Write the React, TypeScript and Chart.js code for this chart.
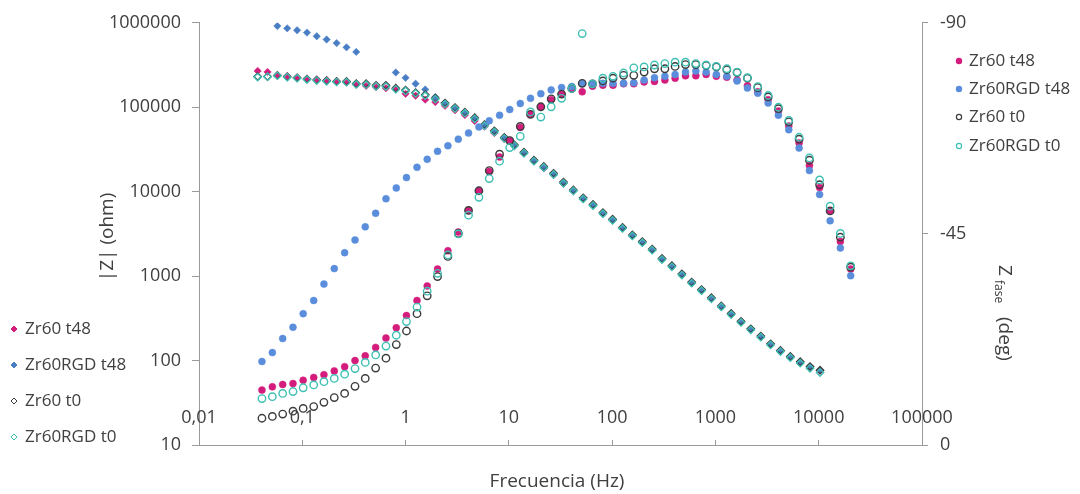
import React, { useEffect, useRef } from 'react';
import { Chart, registerables } from 'chart.js';

Chart.register(...registerables);

// ---------- DATA ----------
const SERIES_NAMES = ['Zr60 t48', 'Zr60RGD t48', 'Zr60 t0', 'Zr60RGD t0'];

// frequencies (Hz) of the |Z| points
const FREQ_Z = [
  0.037, 0.0461, 0.0574, 0.0715, 0.0891, 0.111, 0.138, 0.172, 0.215, 0.268,
  0.333, 0.415, 0.518, 0.645, 0.804, 1.0, 1.25, 1.55, 1.94, 2.41,
  3.01, 3.75, 4.67, 5.81, 7.24, 9.03, 11.3, 14.0, 17.5, 21.8,
  27.1, 33.8, 42.1, 52.4, 65.3, 81.4, 101, 126, 157, 196,
  244, 304, 379, 473, 589, 734, 914, 1140, 1420, 1770,
  2200, 2750, 3420, 4260, 5310, 6620, 8240, 10300,
];

// frequencies (Hz) of the phase points
const FREQ_P = [
  0.0407, 0.0513, 0.0646, 0.0813, 0.102, 0.129, 0.162, 0.204, 0.257, 0.324,
  0.407, 0.513, 0.646, 0.813, 1.02, 1.29, 1.62, 2.04, 2.57, 3.24,
  4.07, 5.13, 6.46, 8.13, 10.2, 12.9, 16.2, 20.4, 25.7, 32.4,
  40.7, 51.3, 64.6, 81.3, 102, 129, 162, 204, 257, 324,
  407, 513, 646, 813, 1020, 1290, 1620, 2040, 2570, 3240,
  4070, 5130, 6460, 8130, 10200, 12900, 16200, 20400,
];

// |Z| (ohm)
const Z_ZR60_T48 = [
  269000, 262000, 238000, 234000, 225000, 216000, 214000, 210000, 204000, 197000,
  185000, 179000, 173000, 168000, 165000, 144000, 137000, 123000, 115000, 104000,
  92300, 80700, 68700, 59000, 49400, 42100, 35200, 29000, 23600, 18900,
  15800, 12400, 10300, 8300, 6950, 5550, 4650, 3720, 3030, 2530,
  2060, 1600, 1310, 1050, 840, 684, 548, 438, 356, 288,
  235, 192, 156, 130, 110, 96, 84, 76,
];
const Z_ZR60RGD_T48 = [
  null, null, 916000, 859000, 815000, 766000, 693000, 634000, 575000, 512000,
  452000, null, null, null, 258000, 223000, 190000, 162000, 132000, 112000,
  97000, 85000, 72500, 60000, 50500, 42500, 34500, 28200, 22800, 19000,
  15800, 12500, 10100, 8150, 6800, 5450, 4560, 3650, 2980, 2480,
  2020, 1570, 1290, 1030, 825, 672, 538, 431, 350, 283,
  231, 189, 154, 128, 109, 95, 83, 76,
];
const Z_ZR60_T0 = [
  231000, 231000, 238000, 229000, 223000, 216000, 210000, 206000, 202000, 202000,
  190000, 190000, 182000, 182000, 168000, 160000, 149000, 141000, 128000, 112000,
  99300, 87500, 75200, 62200, 52600, 44000, 35900, 29400, 23600, 19900,
  16500, 13000, 10500, 8450, 7060, 5650, 4720, 3780, 3080, 2570,
  2090, 1620, 1330, 1064, 851, 693, 555, 444, 361, 292,
  238, 195, 158, 132, 112, 97, 85, 77,
];
const Z_ZR60RGD_T0 = [
  228000, 230000, 236000, 227000, 221000, 213000, 207000, 203000, 199000, 198000,
  186000, 185000, 177000, 176000, 163000, 156000, 146000, 137000, 125000, 109000,
  96500, 85000, 73000, 60500, 51000, 42800, 35000, 28600, 23000, 19400,
  16000, 12600, 10200, 8200, 6850, 5480, 4580, 3670, 2990, 2490,
  2030, 1570, 1290, 1030, 826, 672, 538, 431, 350, 283,
  231, 189, 153, 128, 108, 93, 81, 72,
];

// Phase (deg)
const PH_ZR60_T48 = [
  -11.7, -12.4, -12.9, -13.1, -13.8, -14.4, -15.0, -15.8, -16.7, -18.0,
  -19.0, -20.8, -22.8, -25.0, -27.6, -30.8, -33.9, -37.5, -41.4, -45.4,
  -50.0, -54.2, -58.3, -61.4, -64.9, -67.7, -70.5, -72.1, -73.6, -74.8,
  -75.9, -75.3, -76.5, -76.7, -76.7, -77.0, -77.0, -77.4, -77.5, -77.8,
  -78.2, -78.7, -78.7, -79.0, -78.6, -78.4, -77.8, -76.6, -75.3, -73.6,
  -71.2, -68.0, -64.4, -59.6, -54.9, -49.9, -43.4, -37.5,
];
const PH_ZR60RGD_T48 = [
  -17.8, -19.7, -22.7, -25.1, -28.0, -30.8, -34.3, -37.6, -41.0, -43.7,
  -46.5, -49.4, -52.5, -54.8, -57.0, -59.2, -60.9, -62.6, -63.8, -65.2,
  -66.5, -67.8, -69.1, -70.3, -71.5, -72.8, -73.9, -74.9, -75.7, -76.2,
  -76.4, -77.1, -77.0, -77.1, -77.1, -77.1, -77.2, -77.8, -78.3, -78.6,
  -79.0, -79.5, -79.7, -79.5, -79.0, -78.6, -77.6, -76.1, -75.0, -72.9,
  -70.3, -67.2, -63.3, -58.5, -53.4, -47.8, -42.0, -36.1,
];
const PH_ZR60_T0 = [
  -5.7, -6.1, -6.6, -7.2, -7.8, -8.2, -9.1, -10.1, -11.0, -12.5,
  -14.2, -16.4, -18.5, -21.4, -24.3, -28.0, -31.8, -35.9, -40.2, -45.1,
  -50.0, -54.2, -58.5, -62.0, -64.9, -67.9, -70.5, -72.1, -73.8, -74.8,
  -76.0, -77.1, -77.0, -77.6, -78.2, -78.8, -78.8, -79.5, -80.2, -80.2,
  -80.7, -81.1, -81.1, -80.9, -80.6, -80.0, -79.4, -78.2, -76.2, -74.2,
  -71.7, -68.9, -65.2, -60.7, -55.5, -49.9, -44.3, -37.9,
];
const PH_ZR60RGD_T0 = [
  -9.9, -10.3, -11.0, -11.4, -12.2, -12.8, -13.5, -14.2, -15.1, -16.3,
  -17.6, -19.2, -21.1, -23.4, -26.3, -29.4, -32.8, -36.6, -40.5, -45.0,
  -49.0, -52.8, -56.8, -60.5, -63.4, -65.8, -71.0, -69.9, -72.1, -73.9,
  -76.0, -87.7, -77.0, -78.2, -78.6, -79.3, -80.4, -80.6, -81.0, -81.3,
  -81.6, -81.6, -81.3, -81.0, -80.7, -80.2, -79.5, -78.3, -76.4, -74.5,
  -72.0, -69.2, -65.6, -61.2, -56.5, -50.9, -45.1, -38.2,
];

const X_TICKS = [0.01, 0.1, 1, 10, 100, 1000, 10000, 100000];
const X_TICK_LABELS = ['0,01', '0,1', '1', '10', '100', '1000', '10000', '100000'];
const Y_TICKS = [10, 100, 1000, 10000, 100000, 1000000];
const Y_TICK_LABELS = ['10', '100', '1000', '10000', '100000', '1000000'];
const Y1_TICKS = [-90, -45, 0];
const Y1_TICK_LABELS = ['-90', '-45', '0'];

// ---------- STYLE ----------
const FONT = "'Open Sans', 'Noto Sans', sans-serif";
const TEXT = '#404040';
const AXIS = '#9a9a9a';
const MAGENTA = '#D41C7C';
const BLUE_D = '#4A7EC4';
const BLUE_C = '#5A8EDC';
const BLACK = '#3c3c3c';
const TEAL = '#3FC0B4';

const pts = (xs: number[], ys: (number | null)[]) =>
  xs.map((x, i) => ({ x, y: ys[i] })).filter((p) => p.y !== null && p.y !== undefined);

function drawDiamond(ctx: CanvasRenderingContext2D, x: number, y: number, r: number, fill: string | null, stroke: string) {
  ctx.beginPath();
  ctx.moveTo(x - r, y);
  ctx.lineTo(x, y - r);
  ctx.lineTo(x + r, y);
  ctx.lineTo(x, y + r);
  ctx.closePath();
  if (fill) {
    ctx.fillStyle = fill;
    ctx.fill();
  }
  ctx.strokeStyle = stroke;
  ctx.lineWidth = 1;
  ctx.stroke();
}
function drawCircle(ctx: CanvasRenderingContext2D, x: number, y: number, r: number, fill: string | null, stroke: string) {
  ctx.beginPath();
  ctx.arc(x, y, r, 0, Math.PI * 2);
  if (fill) {
    ctx.fillStyle = fill;
    ctx.fill();
  }
  ctx.strokeStyle = stroke;
  ctx.lineWidth = 1.2;
  ctx.stroke();
}

const overlayPlugin = {
  id: 'overlay',
  afterDraw(chart: any) {
    const ctx: CanvasRenderingContext2D = chart.ctx;
    ctx.save();
    ctx.fillStyle = TEXT;

    // x tick labels (drawn just above the axis line, inside the plot)
    const xs = chart.scales.x;
    ctx.font = `18px ${FONT}`;
    ctx.textAlign = 'center';
    ctx.textBaseline = 'middle';
    X_TICKS.forEach((v, i) => {
      ctx.fillText(X_TICK_LABELS[i], xs.getPixelForValue(v), xs.top - 27);
    });

    // x axis title
    ctx.font = `19px ${FONT}`;
    ctx.textAlign = 'center';
    ctx.textBaseline = 'alphabetic';
    ctx.fillText('Frecuencia (Hz)', 557, 487);

    // left y title
    ctx.save();
    ctx.translate(108, 237);
    ctx.rotate(-Math.PI / 2);
    ctx.textAlign = 'center';
    ctx.textBaseline = 'middle';
    ctx.fillText('|Z| (ohm)', 0, 0);
    ctx.restore();

    // right y title
    ctx.save();
    ctx.translate(999, 265);
    ctx.rotate(Math.PI / 2);
    ctx.textAlign = 'left';
    ctx.textBaseline = 'alphabetic';
    ctx.font = `19px ${FONT}`;
    ctx.fillText('Z', 0, 0);
    ctx.font = `12px ${FONT}`;
    ctx.fillText('fase', 15, 4);
    ctx.font = `19px ${FONT}`;
    ctx.fillText('(deg)', 52, 0);
    ctx.restore();

    // left legend (|Z|, diamonds)
    const leftFill = [MAGENTA, BLUE_D, null, null];
    const leftStroke = [MAGENTA, BLUE_D, BLACK, TEAL];
    const leftY = [329, 365, 401, 437];
    ctx.font = `17px ${FONT}`;
    ctx.textAlign = 'left';
    ctx.textBaseline = 'middle';
    SERIES_NAMES.forEach((name, i) => {
      drawDiamond(ctx, 14, leftY[i], 3, leftFill[i], leftStroke[i]);
      ctx.fillStyle = TEXT;
      ctx.fillText(name, 25, leftY[i]);
    });

    // right legend (phase, circles)
    const rightFill = [MAGENTA, BLUE_C, null, null];
    const rightStroke = [MAGENTA, BLUE_C, BLACK, TEAL];
    const rightY = [61, 89, 117, 146];
    SERIES_NAMES.forEach((name, i) => {
      drawCircle(ctx, 959, rightY[i], 2.6, rightFill[i], rightStroke[i]);
      ctx.fillStyle = TEXT;
      ctx.fillText(name, 969, rightY[i]);
    });

    ctx.restore();
  },
};

export default function App() {
  const ref = useRef<HTMLCanvasElement>(null);

  useEffect(() => {
    const zFill = [MAGENTA, BLUE_D, 'rgba(0,0,0,0)', 'rgba(0,0,0,0)'];
    const zStroke = [MAGENTA, BLUE_D, BLACK, TEAL];
    const pFill = [MAGENTA, BLUE_C, 'rgba(0,0,0,0)', 'rgba(0,0,0,0)'];
    const pStroke = [MAGENTA, BLUE_C, BLACK, TEAL];
    const zData = [Z_ZR60_T48, Z_ZR60RGD_T48, Z_ZR60_T0, Z_ZR60RGD_T0];
    const pData = [PH_ZR60_T48, PH_ZR60RGD_T48, PH_ZR60_T0, PH_ZR60RGD_T0];

    const datasets: any[] = [];
    zData.forEach((d, i) => {
      datasets.push({
        label: '|Z| ' + SERIES_NAMES[i],
        data: pts(FREQ_Z, d),
        yAxisID: 'y',
        xAxisID: 'x',
        showLine: false,
        pointStyle: 'rectRot',
        pointRadius: 3.7,
        pointBackgroundColor: zFill[i],
        pointBorderColor: zStroke[i],
        pointBorderWidth: i < 2 ? 0.5 : 1.3,
      });
    });
    pData.forEach((d, i) => {
      datasets.push({
        label: 'fase ' + SERIES_NAMES[i],
        data: pts(FREQ_P, d),
        yAxisID: 'y1',
        xAxisID: 'x',
        showLine: false,
        pointStyle: 'circle',
        pointRadius: i < 2 ? 3.5 : 3.7,
        pointBackgroundColor: pFill[i],
        pointBorderColor: pStroke[i],
        pointBorderWidth: i < 2 ? 0.5 : 1.4,
      });
    });
    datasets.forEach((ds, i) => (ds.order = datasets.length - i));

    const tickFont = { family: FONT, size: 18 };

    const chart = new Chart(ref.current as HTMLCanvasElement, {
      type: 'scatter',
      data: { datasets },
      plugins: [overlayPlugin],
      options: {
        animation: false,
        responsive: true,
        maintainAspectRatio: false,
        devicePixelRatio: 1,
        layout: { padding: { top: 15, left: 0, right: 0, bottom: 0 } },
        plugins: {
          legend: { display: false },
          tooltip: { enabled: false },
        },
        scales: {
          x: {
            type: 'logarithmic',
            position: 'bottom',
            min: 0.01,
            max: 100000,
            afterBuildTicks: (s: any) => {
              s.ticks = X_TICKS.map((v) => ({ value: v }));
            },
            afterFit: (s: any) => {
              s.height = 49;
            },
            ticks: {
              display: false,
              autoSkip: false,
              maxRotation: 0,
              minRotation: 0,
            },
            grid: { drawOnChartArea: false, drawTicks: true, tickLength: -5, color: AXIS },
            border: { display: true, color: AXIS, width: 1 },
          },
          y: {
            type: 'logarithmic',
            position: 'left',
            min: 10,
            max: 1000000,
            afterBuildTicks: (s: any) => {
              s.ticks = Y_TICKS.map((v) => ({ value: v }));
            },
            afterFit: (s: any) => {
              s.width = 199;
            },
            ticks: {
              padding: 11,
              color: TEXT,
              font: tickFont,
              callback: (_v: any, i: number) => Y_TICK_LABELS[i],
            },
            grid: { drawOnChartArea: false, drawTicks: true, tickLength: 7, color: AXIS },
            border: { display: true, color: AXIS, width: 1 },
          },
          y1: {
            type: 'linear',
            position: 'right',
            min: -90,
            max: 0,
            reverse: true,
            afterBuildTicks: (s: any) => {
              s.ticks = Y1_TICKS.map((v) => ({ value: v }));
            },
            afterFit: (s: any) => {
              s.width = 158;
            },
            ticks: {
              padding: 12,
              color: TEXT,
              font: tickFont,
              callback: (_v: any, i: number) => Y1_TICK_LABELS[i],
            },
            grid: { drawOnChartArea: false, drawTicks: true, tickLength: 6, color: AXIS },
            border: { display: true, color: AXIS, width: 1 },
          },
        },
      } as any,
    });
    return () => chart.destroy();
  }, []);

  return (
    <div style={{ position: 'absolute', left: 0, top: 0, width: 1080, height: 494, background: '#ffffff' }}>
      <canvas ref={ref} />
    </div>
  );
}
